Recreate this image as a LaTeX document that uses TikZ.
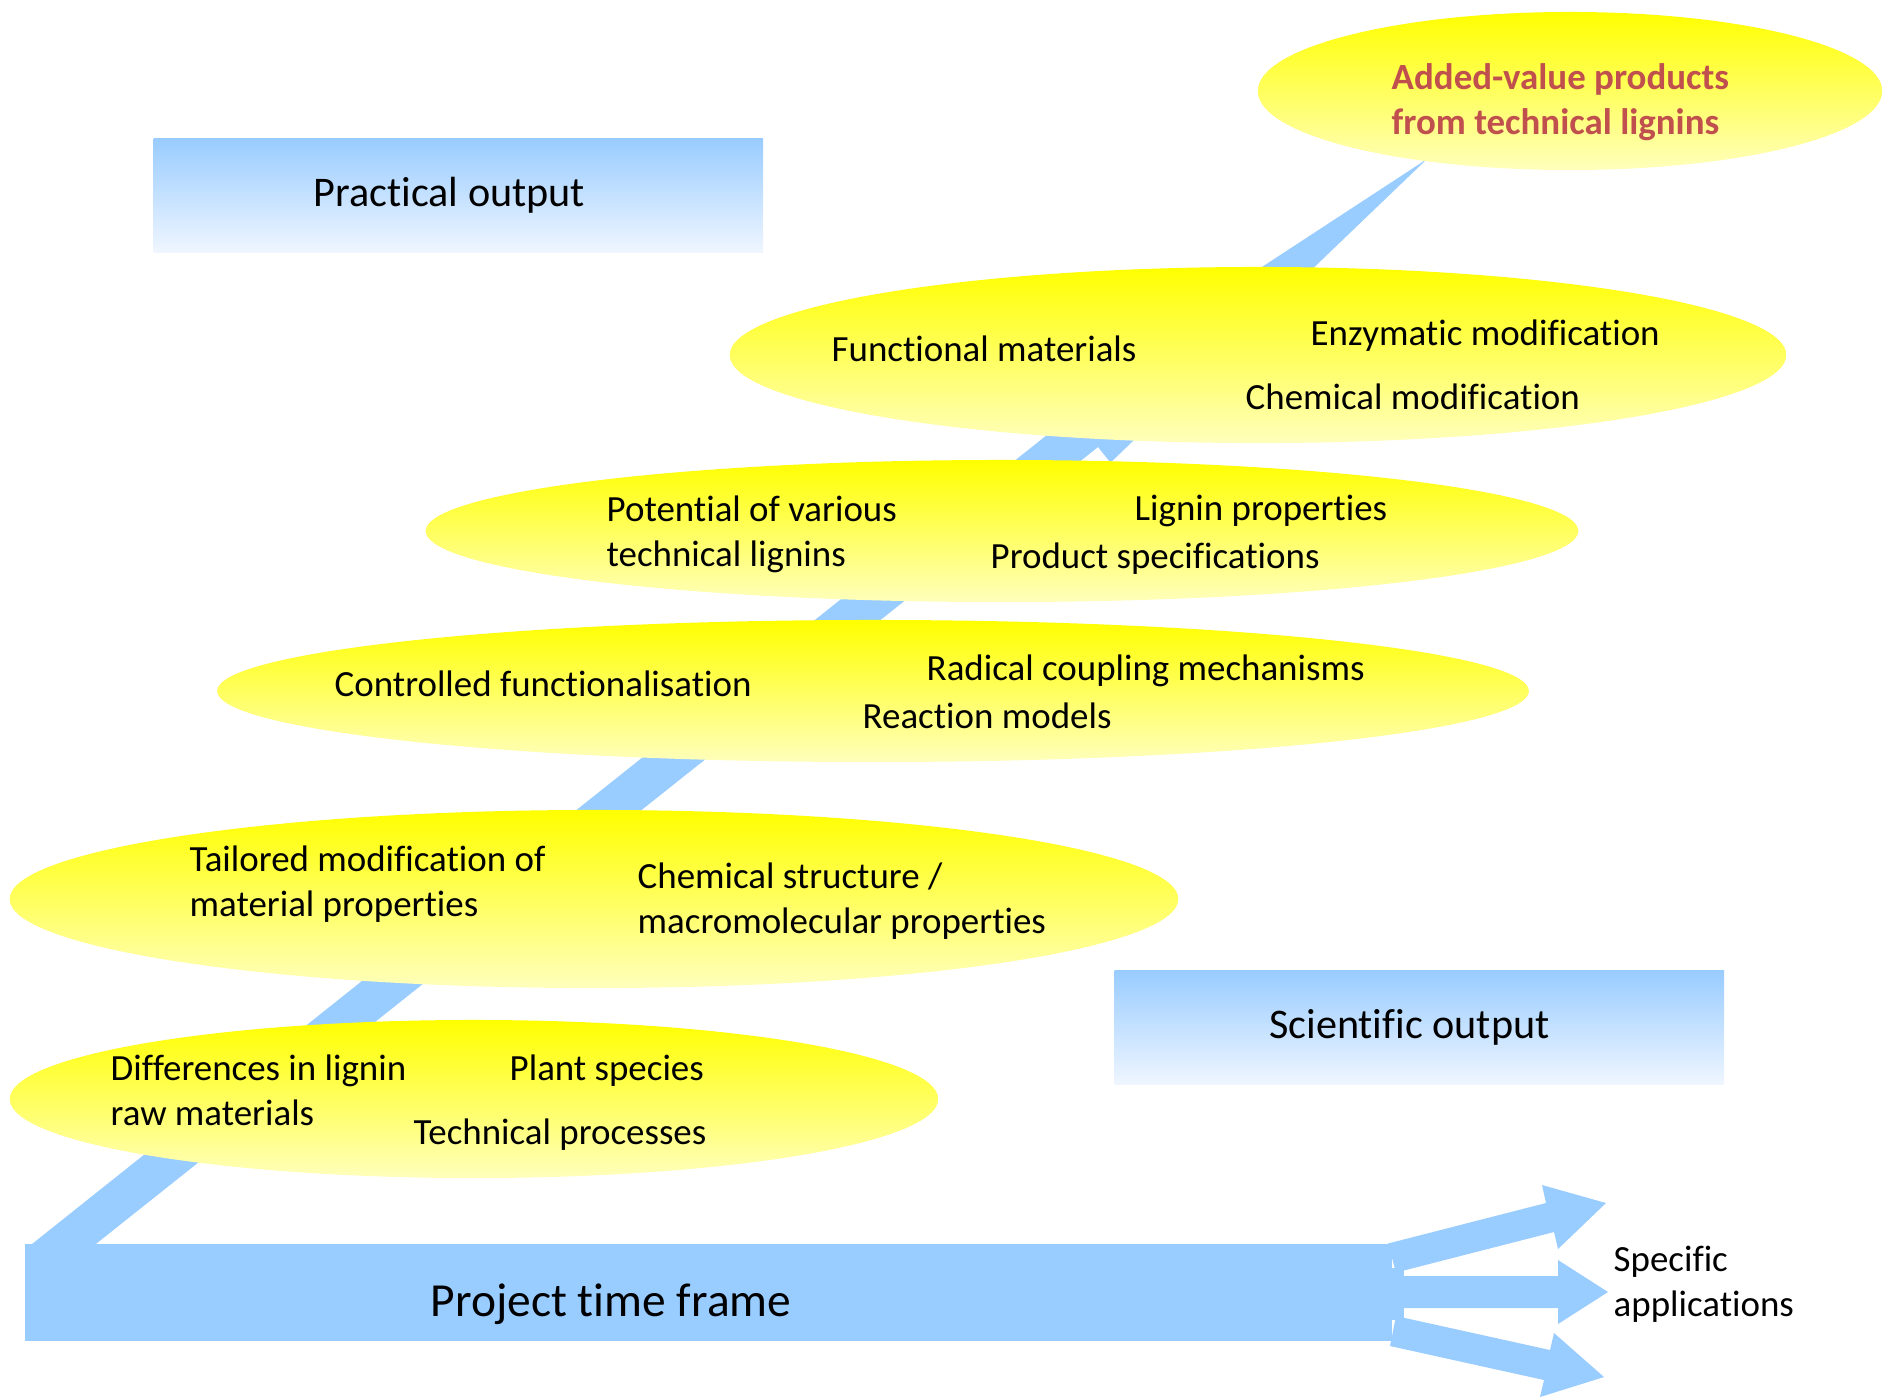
\documentclass[tikz,border=0pt]{standalone}
\usepackage{fontspec}
\setmainfont[Ligatures=NoCommon]{Carlito}
\usetikzlibrary{shapes.geometric}
\definecolor{bandblue}{RGB}{153,204,255}
\definecolor{paleblue}{RGB}{240,246,255}
\definecolor{paleyellow}{RGB}{255,255,188}
\definecolor{accentred}{RGB}{192,80,77}
\begin{document}
\begin{tikzpicture}[x=0.01cm,y=-0.01cm,
  ell/.style={ellipse, inner sep=0pt, draw=none, top color=yellow, bottom color=paleyellow},
  obox/.style={rectangle, inner sep=0pt, draw=none, top color=bandblue, bottom color=paleblue,
    font=\fontsize{12}{14.5}\selectfont},
  etext/.style={anchor=base west, align=left, inner sep=0pt, font=\fontsize{10.5}{12.8}\selectfont},
  bandfill/.style={fill=bandblue, draw=none}]
\useasboundingbox (0,0) rectangle (1888,1399);

% diagonal band arrow
\fill[bandfill] (27,1248) -- (1072,415) -- (1059.5,399.4) -- (1427,159)
  -- (1110.5,462.6) -- (1098,447) -- (38,1290) -- cycle;

% project time frame bar
\node[bandfill, rectangle, inner sep=0pt, anchor=north west,
  minimum width=13.66cm, minimum height=0.97cm] (bar) at (24,1243) {};
\node[inner sep=0pt, font=\fontsize{13.5}{16}\selectfont] (ptf) at (611,1304) {Project time frame};

% three application arrows
\fill[bandfill] (1385,1268) rectangle (1404,1320);
\fill[bandfill] (1388,1243.5) -- (1546,1203) -- (1542,1185) -- (1606,1203)
  -- (1558,1249) -- (1554,1232) -- (1396,1272.5) -- cycle;
\fill[bandfill] (1400,1276) -- (1558,1276) -- (1558,1260) -- (1608,1292)
  -- (1558,1324) -- (1558,1308) -- (1400,1308) -- cycle;
\fill[bandfill] (1396,1316) -- (1550,1350) -- (1554,1333) -- (1604,1377)
  -- (1540,1397) -- (1544,1380) -- (1390,1346) -- cycle;
\node[etext] (spec) at (1613,1316) {Specific\\applications};

% output boxes
\node[obox, anchor=north west, minimum width=6.09cm, minimum height=1.14cm] (prac) at (153,138) {\hspace*{-0.18cm}Practical output};
\node[obox, anchor=north west, minimum width=6.09cm, minimum height=1.14cm] (sci) at (1114,970) {\hspace*{-0.2cm}Scientific output};

% ellipses
\node[ell, minimum width=9.28cm, minimum height=1.58cm] (e1) at (474,1099) {};
\node[ell, minimum width=11.68cm, minimum height=1.78cm] (e2) at (594,899) {};
\node[ell, minimum width=13.11cm, minimum height=1.42cm] (e3) at (873,691) {};
\node[ell, minimum width=11.52cm, minimum height=1.42cm] (e4) at (1002,531) {};
\node[ell, minimum width=10.56cm, minimum height=1.76cm] (e5) at (1258,355) {};
\node[ell, minimum width=6.24cm, minimum height=1.58cm] (e6) at (1570,91) {};

% ellipse texts
\node[etext] (t1a) at (110,1125) {Differences in lignin\\raw materials};
\node[etext] (t1b) at (509,1080) {Plant species};
\node[etext] (t1c) at (413,1144) {Technical processes};

\node[etext] (t2a) at (189,916) {Tailored modification of\\material properties};
\node[etext] (t2b) at (637,933) {Chemical structure /\\macromolecular properties};

\node[etext] (t3a) at (334,696) {Controlled functionalisation};
\node[etext] (t3b) at (926,680) {Radical coupling mechanisms};
\node[etext] (t3c) at (862,728) {Reaction models};

\node[etext] (t4a) at (606,566) {Potential of various\\technical lignins};
\node[etext] (t4b) at (1134,520) {Lignin properties};
\node[etext] (t4c) at (990,568) {Product specifications};

\node[etext] (t5a) at (831,361) {Functional materials};
\node[etext] (t5b) at (1310,345) {Enzymatic modification};
\node[etext] (t5c) at (1245,409) {Chemical modification};

\node[etext, font=\fontsize{10.5}{12.8}\selectfont\bfseries, text=accentred] (t6) at (1391,134) {Added-value products\\from technical lignins};
\end{tikzpicture}
\end{document}
